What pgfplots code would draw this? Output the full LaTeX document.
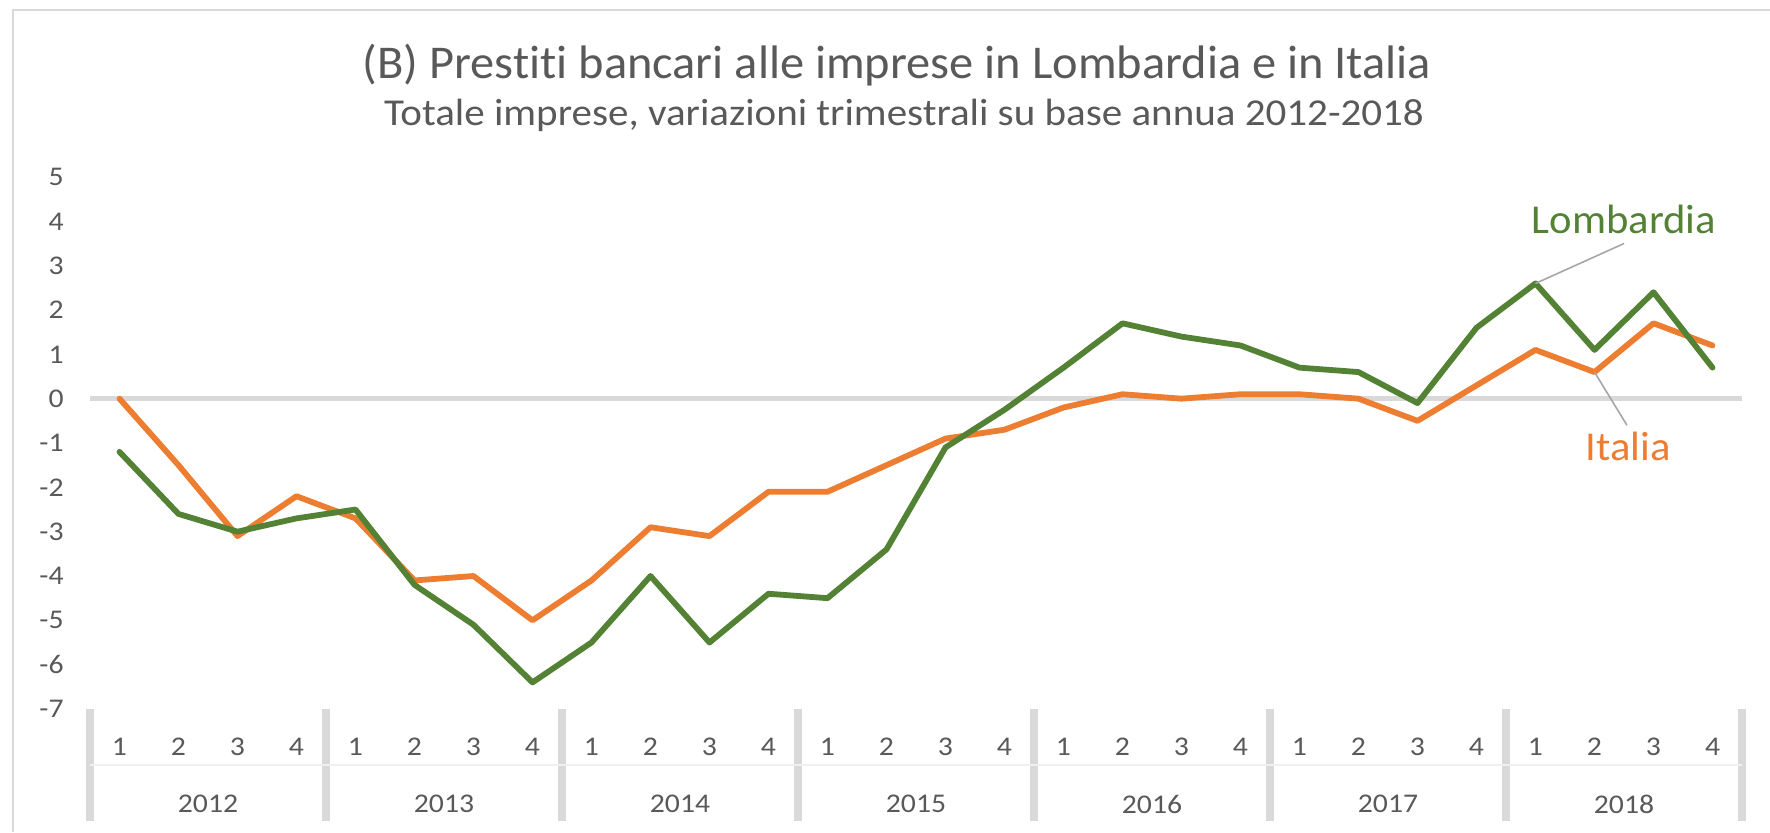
\documentclass[border=0pt]{standalone}
\usepackage{fontspec}
\setmainfont{Carlito}[Ligatures=NoCommon]
\newfontfamily\wideA{Carlito}[Ligatures=NoCommon, FakeStretch=1.03]
\newfontfamily\wideB{Carlito}[Ligatures=NoCommon, FakeStretch=1.08]
\newfontfamily\wideC{Carlito}[Ligatures=NoCommon, FakeStretch=1.1]
\newfontfamily\wideD{Carlito}[Ligatures=NoCommon, FakeStretch=1.04]
\usepackage{pgfplots}
\pgfplotsset{compat=1.18}
\definecolor{lomb}{HTML}{548235}
\definecolor{ital}{HTML}{ED7D31}
\definecolor{txt}{HTML}{595959}
\definecolor{lgray}{HTML}{D9D9D9}
\definecolor{lead}{HTML}{A6A6A6}
\begin{document}
\begin{tikzpicture}
\useasboundingbox (0pt,0pt) rectangle (885pt,416pt);
\draw[lgray, line width=1.2pt] (6.5pt,0pt) -- (6.5pt,411pt) -- (885pt,411pt);
\node[txt, font=\wideA\fontsize{23.5}{27}\selectfont] at (448.5pt,383.5pt) {(B) Prestiti bancari alle imprese in Lombardia e in Italia};
\node[txt, font=\wideB\fontsize{19}{22}\selectfont] at (452pt,358.5pt) {Totale imprese, variazioni trimestrali su base annua 2012-2018};
\begin{axis}[
  at={(45pt,61.5pt)}, anchor=south west,
  scale only axis, width=826pt, height=266pt,
  xmin=-0.5, xmax=27.5, ymin=-7, ymax=5,
  axis line style={draw=none},
  clip=false,
  xtick={0,...,27},
  xticklabels={1,2,3,4,1,2,3,4,1,2,3,4,1,2,3,4,1,2,3,4,1,2,3,4,1,2,3,4},
  ytick={-7,...,5},
  major tick length=0pt,
  tick style={draw=none},
  xticklabel style={anchor=center, yshift=-19pt, text=txt, font=\wideC\fontsize{13.5}{16}\selectfont},
  yticklabel style={anchor=east, inner sep=0pt, xshift=-13pt, text=txt, font=\wideC\fontsize{13.5}{16}\selectfont},
  /pgf/number format/assume math mode=true,
  yticklabel={\pgfmathprintnumber[assume math mode=true]{\tick}},
]
\draw[lgray, line width=2.6pt] (axis cs:-0.5,0) -- (axis cs:27.5,0);
\pgfplotsinvokeforeach{-0.5,3.5,7.5,11.5,15.5,19.5,23.5,27.5}{
  \draw[lgray, line width=3.6pt] (axis cs:#1,-7) -- ++(0pt,-56pt);
}
\draw[lgray!40, line width=0.6pt] ([yshift=-28pt]axis cs:-0.5,-7) -- ([yshift=-28pt]axis cs:27.5,-7);
\node[txt, font=\wideC\fontsize{13.5}{16}\selectfont] at ([yshift=-47.5pt]axis cs:1.5,-7) {2012};
\node[txt, font=\wideC\fontsize{13.5}{16}\selectfont] at ([yshift=-47.5pt]axis cs:5.5,-7) {2013};
\node[txt, font=\wideC\fontsize{13.5}{16}\selectfont] at ([yshift=-47.5pt]axis cs:9.5,-7) {2014};
\node[txt, font=\wideC\fontsize{13.5}{16}\selectfont] at ([yshift=-47.5pt]axis cs:13.5,-7) {2015};
\node[txt, font=\wideC\fontsize{13.5}{16}\selectfont] at ([yshift=-47.5pt]axis cs:17.5,-7) {2016};
\node[txt, font=\wideC\fontsize{13.5}{16}\selectfont] at ([yshift=-47.5pt]axis cs:21.5,-7) {2017};
\node[txt, font=\wideC\fontsize{13.5}{16}\selectfont] at ([yshift=-47.5pt]axis cs:25.5,-7) {2018};
\addplot[ital, line width=2.9pt, line join=round, line cap=round] coordinates {
(0,0) (1,-1.5) (2,-3.1) (3,-2.2)
(4,-2.7) (5,-4.1) (6,-4.0) (7,-5.0)
(8,-4.1) (9,-2.9) (10,-3.1) (11,-2.1)
(12,-2.1) (13,-1.5) (14,-0.9) (15,-0.7)
(16,-0.2) (17,0.1) (18,0.0) (19,0.1)
(20,0.1) (21,0.0) (22,-0.5) (23,0.3)
(24,1.1) (25,0.6) (26,1.7) (27,1.2)
};
\addplot[lomb, line width=2.9pt, line join=round, line cap=round] coordinates {
(0,-1.2) (1,-2.6) (2,-3.0) (3,-2.7)
(4,-2.5) (5,-4.2) (6,-5.1) (7,-6.4)
(8,-5.5) (9,-4.0) (10,-5.5) (11,-4.4)
(12,-4.5) (13,-3.4) (14,-1.1) (15,-0.25)
(16,0.7) (17,1.7) (18,1.4) (19,1.2)
(20,0.7) (21,0.6) (22,-0.1) (23,1.6)
(24,2.6) (25,1.1) (26,2.4) (27,0.7)
};
\draw[lead, line width=0.8pt] (axis cs:24,2.6) -- (axis cs:25.5,3.5);
\draw[lead, line width=0.8pt] (axis cs:25,0.6) -- (axis cs:25.55,-0.6);
\node[lomb, font=\wideD\fontsize{20.5}{24}\selectfont] at (axis cs:25.5,4.05) {Lombardia};
\node[ital, font=\wideD\fontsize{20.5}{24}\selectfont] at (axis cs:25.57,-1.07) {Italia};
\end{axis}
\end{tikzpicture}
\end{document}
